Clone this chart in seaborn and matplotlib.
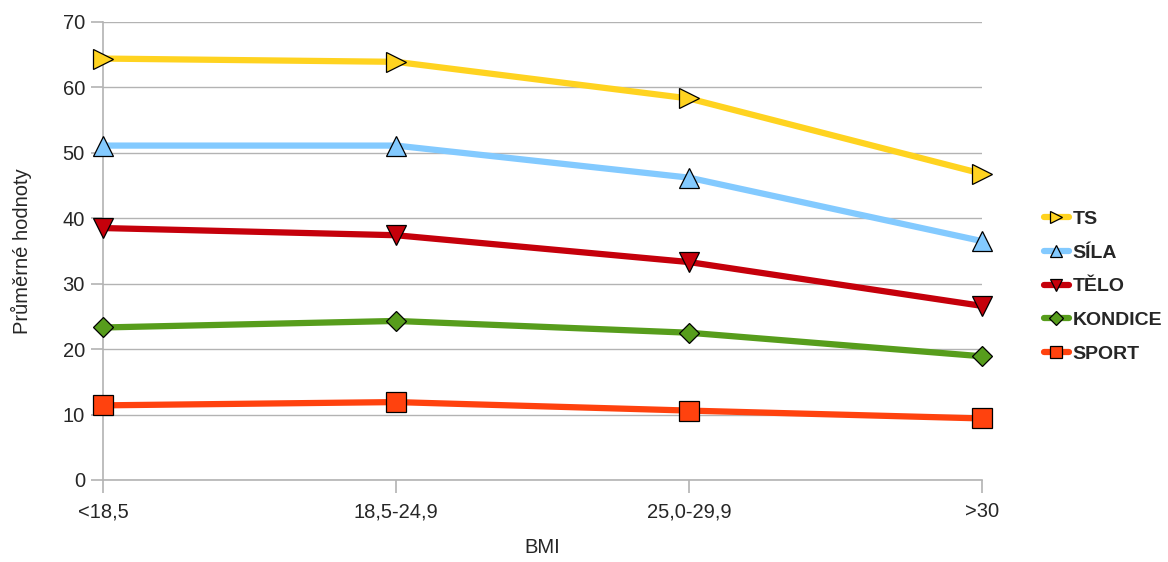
import numpy as np
import pandas as pd
import seaborn as sns
import matplotlib
matplotlib.use("Agg")
import matplotlib.pyplot as plt

# ── data ──────────────────────────────────────────────────────────────────────
categories = ["<18,5", "18,5-24,9", "25,0-29,9", ">30"]
ts      = [64.4, 63.9, 58.3, 46.8]
sila    = [51.1, 51.1, 46.2, 36.5]
telo    = [38.5, 37.4, 33.3, 26.6]
kondice = [23.3, 24.3, 22.5, 18.9]
sport   = [11.4, 11.9, 10.6, 9.4]

series = {"TS": ts, "SÍLA": sila, "TĚLO": telo, "KONDICE": kondice, "SPORT": sport}
colors = {"TS": "#ffd320", "SÍLA": "#83caff", "TĚLO": "#c5000b",
          "KONDICE": "#579d1c", "SPORT": "#ff420e"}
markers = {"TS": ">", "SÍLA": "^", "TĚLO": "v", "KONDICE": "D", "SPORT": "s"}
msizes = {"TS": 14, "SÍLA": 14, "TĚLO": 14, "KONDICE": 10.5, "SPORT": 14}

rows = []
for name, vals in series.items():
    for i, v in enumerate(vals):
        rows.append({"pos": i, "value": v, "series": name})
df = pd.DataFrame(rows)

# ── plot ──────────────────────────────────────────────────────────────────────
sns.set_style("white")
plt.rcParams["font.family"] = ["Liberation Sans", "DejaVu Sans"]

fig = plt.figure(figsize=(11.68, 5.62), dpi=100)
ax = fig.add_axes([0.0882, 0.146, 0.7526, 0.815])

for name in series:
    sns.lineplot(data=df[df["series"] == name], x="pos", y="value", ax=ax,
                 color=colors[name], linewidth=4.5, marker=markers[name],
                 markersize=msizes[name], markeredgecolor="black",
                 markeredgewidth=0.9, label=name, clip_on=False, zorder=3)

ax.set_xlim(0, 3)
ax.set_ylim(0, 70)
ax.set_yticks(range(0, 71, 10))
ax.set_xticks(range(len(categories)))
ax.set_xticklabels(categories)
ax.yaxis.grid(True, color="#b3b3b3", linewidth=1)
ax.set_axisbelow(True)
for s in ["top", "right"]:
    ax.spines[s].set_visible(False)
for s in ["left", "bottom"]:
    ax.spines[s].set_color("#b3b3b3")
    ax.spines[s].set_linewidth(1.2)
ax.tick_params(axis="both", length=9, color="#b3b3b3", width=1.2,
               labelsize=14.5, pad=4, direction="out", left=True, bottom=True)
ax.tick_params(axis="x", pad=7)
ax.set_xlabel("BMI", fontsize=14.5, labelpad=12)
ax.set_ylabel("Průměrné hodnoty", fontsize=14.5, labelpad=22)

handles, labels = ax.get_legend_handles_labels()
ax.legend(handles, labels, loc="center left", bbox_to_anchor=(1.07, 0.422),
          frameon=False, prop={"weight": "bold", "size": 14},
          handlelength=1.3, handletextpad=0.2, labelspacing=0.83,
          markerscale=0.65, borderpad=0, borderaxespad=0)

fig.savefig("out.png", dpi=100)
